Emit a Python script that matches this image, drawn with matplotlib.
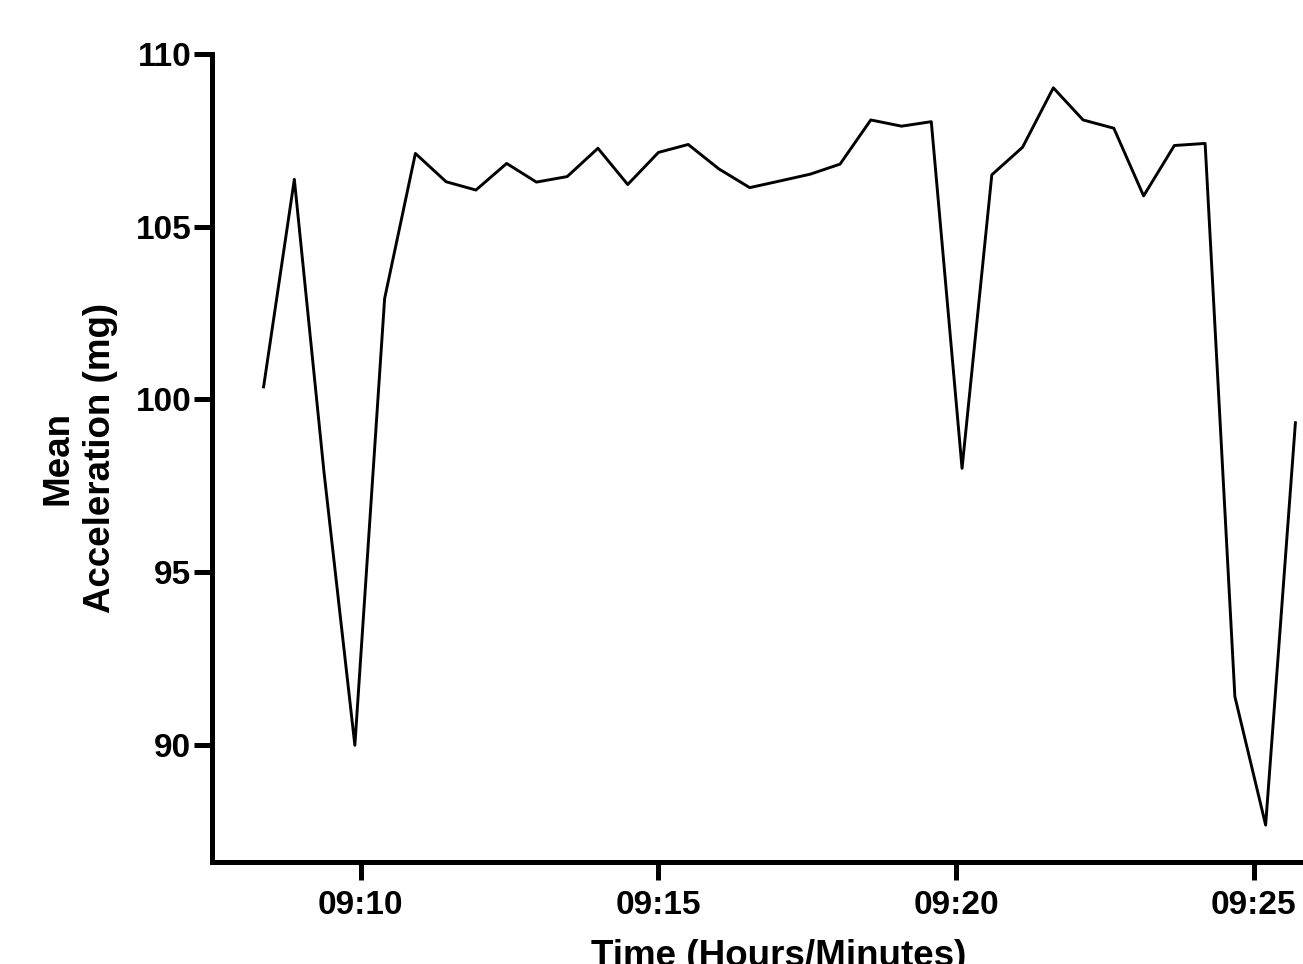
import matplotlib
matplotlib.use("Agg")
import matplotlib.pyplot as plt
import matplotlib.dates as mdates
import pandas as pd

# Epoch times (HH:MM:SS) and mean acceleration per epoch (mg)
times = ["09:08:22", "09:08:53", "09:09:23", "09:09:54", "09:10:24",
         "09:10:55", "09:11:26", "09:11:56", "09:12:27", "09:12:57",
         "09:13:28", "09:13:59", "09:14:29", "09:15:00", "09:15:30",
         "09:16:01", "09:16:32", "09:17:02", "09:17:33", "09:18:03",
         "09:18:34", "09:19:05", "09:19:35", "09:20:06", "09:20:36",
         "09:21:07", "09:21:38", "09:22:08", "09:22:39", "09:23:09",
         "09:23:40", "09:24:11", "09:24:41", "09:25:12", "09:25:42"]
accel = [100.36, 106.37, 97.86, 89.98, 102.92,
         107.12, 106.30, 106.06, 106.83, 106.29,
         106.45, 107.27, 106.22, 107.15, 107.38,
         106.67, 106.13, 106.32, 106.52, 106.81,
         108.09, 107.91, 108.04, 98.00, 106.50,
         107.30, 109.02, 108.09, 107.85, 105.89,
         107.35, 107.41, 91.39, 87.67, 99.32]
yticks = [90, 95, 100, 105, 110]

t = pd.to_datetime(["2000-01-01 " + s for s in times])

plt.rcParams['font.family'] = ['Liberation Sans', 'DejaVu Sans']
plt.rcParams['font.weight'] = 'bold'

fig = plt.figure(figsize=(13.03, 9.64), dpi=100)
# axes runs a little past the right edge, as in the cropped original
ax = fig.add_axes([212/1303, 1 - 862/964, (1346 - 212)/1303, (862 - 54)/964])

ax.plot(t, accel, color='black', linewidth=2.1)

# axis limits
ax.set_xlim(pd.Timestamp("2000-01-01 09:07:30"), pd.Timestamp("2000-01-01 09:26:33"))
ax.set_ylim(86.6, 110)
ax.set_yticks(yticks)
ax.xaxis.set_major_locator(mdates.MinuteLocator(byminute=[10, 15, 20, 25]))
ax.xaxis.set_major_formatter(mdates.DateFormatter('%H:%M'))

# spines and ticks
for side in ['top', 'right']:
    ax.spines[side].set_visible(False)
for side in ['left', 'bottom']:
    ax.spines[side].set_linewidth(3.6)
    ax.spines[side].set_capstyle('projecting')
ax.tick_params(axis='both', width=3.6, length=13, labelsize=24)
ax.tick_params(axis='x', pad=7)
ax.tick_params(axis='y', pad=2)
for lab in ax.get_xticklabels() + ax.get_yticklabels():
    lab.set_fontweight('bold')

ax.set_ylabel("Mean\nAcceleration (mg)", fontsize=26.5, fontweight='bold', linespacing=1.3)
ax.yaxis.set_label_coords(-0.0826, 0.5)
ax.set_xlabel("Time (Hours/Minutes)", fontsize=26.5, fontweight='bold')
ax.xaxis.set_label_coords(0.5, -0.095)

fig.savefig("out.png", dpi=100)
